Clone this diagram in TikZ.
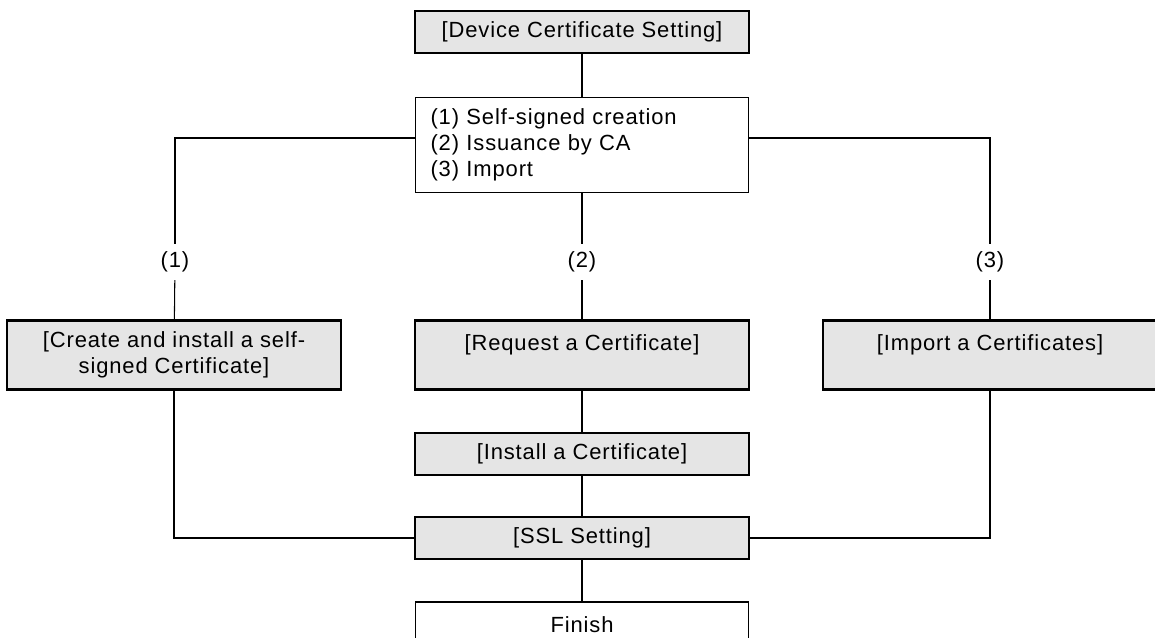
\documentclass[tikz,border=0pt]{standalone}
\usepackage{fontspec}
\setmainfont[LetterSpace=4]{Liberation Sans}
\usetikzlibrary{positioning}
\definecolor{panel_gray}{RGB}{229, 229, 229}

\begin{document}
\begin{tikzpicture}[x=0.02cm, y=-0.02cm,
      font=\fontsize{12.5}{14.7}\selectfont,
      wire/.style={draw, line width=0.6pt},
      stage/.style={draw, line width=1.6pt, fill=panel_gray, minimum width=6.68cm,
        minimum height=0.84cm, inner sep=0pt, align=center},
      tall/.style={stage, minimum height=1.37cm},
      menu/.style={draw, line width=0.6pt, minimum width=6.66cm, minimum height=1.9cm,
        inner xsep=0.3cm, inner ysep=0pt, text width=6.06cm, align=left},
      endbox/.style={draw, line width=0.6pt, minimum width=6.66cm, minimum height=0.92cm,
        inner sep=0pt},
      branch/.style={inner sep=0.15cm}]

    \useasboundingbox (0,0) rectangle (1155,638);

    %% ---- top: setting and its three choices ------------------------------
    \node[stage] (dev)  at (582,32)  {[Device Certificate Setting]};
    \node[menu]  (opts) at (582,145) {(1) Self-signed creation\\(2) Issuance by CA\\(3) Import};

    \coordinate (forkL) at (175,138);
    \coordinate (forkR) at (990,138);

    \node[branch] (lblA) at (175,262) {(1)};
    \node[branch] (lblB) at (582,262) {(2)};
    \node[branch] (lblC) at (990,262) {(3)};

    %% ---- middle: one box per choice --------------------------------------
    \node[tall] (self) at (174,355) {[Create and install a self-\\signed Certificate]};
    \node[tall] (req)  at (582,355) {[Request a Certificate]\\~};
    \node[tall] (imp)  at (990,355) {[Import a Certificates]\\~};

    \node[stage] (inst) at (582,454) {[Install a Certificate]};

    %% ---- bottom: common end ----------------------------------------------
    \node[stage]  (ssl) at (582,538) {[SSL Setting]};
    \node[endbox] (fin) at (582,625) {Finish};

    \draw[wire] (dev) -- (opts);
    \draw[wire] (opts.west |- forkL) -- (forkL) -- (lblA);
    \draw[wire] (opts.east |- forkR) -- (forkR) -- (lblC);
    \draw[wire] (opts) -- (lblB);

    \draw[wire] (lblA) -- (self);
    \draw[wire] (lblB) -- (req);
    \draw[wire] (lblC) -- (imp);

    \draw[wire] (req) -- (inst);
    \draw[wire] (inst) -- (ssl);
    \draw[wire] (self) |- (ssl);
    \draw[wire] (imp) |- (ssl);
    \draw[wire] (ssl) -- (fin);
  \end{tikzpicture}
\end{document}
